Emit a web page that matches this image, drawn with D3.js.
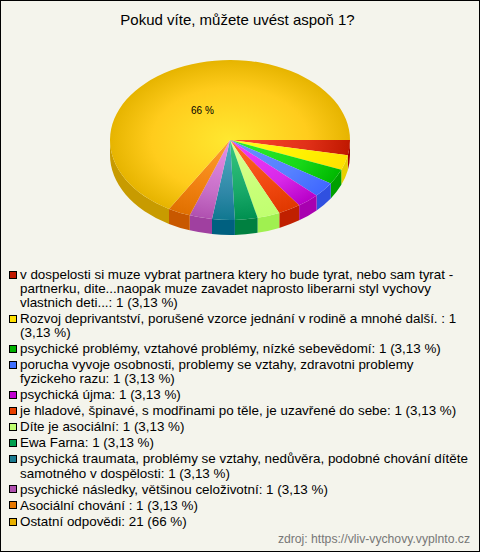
<!DOCTYPE html>
<html><head><meta charset="utf-8">
<script src="https://cdn.jsdelivr.net/npm/d3@7"></script>
<style>html,body{margin:0;padding:0;background:#f4f4ec}svg{display:block}</style>
</head><body><div id="c"></div>
<script>
const title = "Pokud víte, můžete uvést aspoň 1?";
const source = "zdroj: https://vliv-vychovy.vyplnto.cz";
const legendLines = [
 ["v dospelosti si muze vybrat partnera ktery ho bude tyrat, nebo sam tyrat -","partnerku, dite...naopak muze zavadet naprosto liberarni styl vychovy","vlastnich deti...: 1 (3,13 %)"],
 ["Rozvoj deprivantství, porušené vzorce jednání v rodině a mnohé další. : 1","(3,13 %)"],
 ["psychické problémy, vztahové problémy, nízké sebevědomí: 1 (3,13 %)"],
 ["porucha vyvoje osobnosti, problemy se vztahy, zdravotni problemy","fyzickeho razu: 1 (3,13 %)"],
 ["psychická újma: 1 (3,13 %)"],
 ["je hladové, špinavé, s modřinami po těle, je uzavřené do sebe: 1 (3,13 %)"],
 ["Díte je asociální: 1 (3,13 %)"],
 ["Ewa Farna: 1 (3,13 %)"],
 ["psychická traumata, problémy se vztahy, nedůvěra, podobné chování dítěte","samotného v dospělosti: 1 (3,13 %)"],
 ["psychické následky, většinou celoživotní: 1 (3,13 %)"],
 ["Asociální chování : 1 (3,13 %)"],
 ["Ostatní odpovědi: 21 (66 %)"]
];
const sliceValues = [1,1,1,1,1,1,1,1,1,1,1,21.85];
const innerColors = ["#ff4a30","#ffff20","#30f030","#6a90ff","#f040ff","#ff6a28","#e0ff98","#38c880","#50b0c0","#e890e8","#ffa030","#ffe830"];
const midColors   = ["#e03018","#fff000","#18d818","#5580ff","#d828e8","#f04810","#c8ff78","#18a868","#3088a8","#c870c8","#f08010","#ffcc1c"];
const edgeColors  = ["#c01800","#ffe000","#00b800","#4068ff","#b800c8","#e03800","#c0ff70","#009050","#107890","#b050b0","#e07000","#e6b400"];
const sideColors  = ["#a00000","#e8d000","#00a000","#3050e0","#a800b0","#c02000","#a0f050","#008040","#006080","#a040a0","#c85800","#c89b00"];
const keyColors   = ["#c01800","#ffe000","#00b000","#4070ff","#c000d0","#e84000","#c0ff70","#00a050","#1a7a90","#b050b0","#e87800","#e8b000"];

const W=480,H=552,cx=230,cy=140,rx=120,ry=80,depth=15;
const svg=d3.select("#c").append("svg").attr("width",W).attr("height",H);
const FONT="'Liberation Sans',Arial,sans-serif";
svg.append("rect").attr("x",.5).attr("y",.5).attr("width",W-1).attr("height",H-1).attr("fill","#f4f4ec").attr("stroke","#000");
svg.append("text").attr("x",237.5).attr("y",25).attr("text-anchor","middle").attr("font-family",FONT).attr("font-size",15).attr("fill","#000").text(title);

const pie=d3.pie().sort(null).startAngle(Math.PI/2).endAngle(Math.PI/2+2*Math.PI);
const arcs=pie(sliceValues);
const defs=svg.append("defs");
arcs.forEach((d,i)=>{
  const g=defs.append("radialGradient").attr("id","g"+i).attr("gradientUnits","userSpaceOnUse").attr("cx",0).attr("cy",0).attr("r",rx);
  g.append("stop").attr("offset",0).attr("stop-color",innerColors[i]);
  g.append("stop").attr("offset",.65).attr("stop-color",midColors[i]);
  g.append("stop").attr("offset",1).attr("stop-color",edgeColors[i]);
});
const px=a=>cx+rx*Math.sin(a), py=a=>cy-ry*Math.cos(a);
const sideG=svg.append("g");
arcs.forEach((d,i)=>{
  // d3 angles: 0 at north, clockwise. Visible rim runs east (PI/2) to west (3PI/2).
  const a0=Math.max(d.startAngle,Math.PI/2), a1=Math.min(d.endAngle,1.5*Math.PI);
  if(a1<=a0) return;
  sideG.append("path").attr("fill",sideColors[i])
   .attr("d",`M${px(a0)},${py(a0)}A${rx},${ry} 0 0 1 ${px(a1)},${py(a1)}L${px(a1)},${py(a1)+depth}A${rx},${ry} 0 0 0 ${px(a0)},${py(a0)+depth}Z`);
});
const arcGen=d3.arc().innerRadius(0).outerRadius(rx);
svg.append("g").attr("transform",`translate(${cx},${cy}) scale(1,${ry/rx})`)
 .selectAll("path").data(arcs).join("path").attr("d",arcGen).attr("fill",(d,i)=>`url(#g${i})`);
svg.append("text").attr("x",191).attr("y",114).attr("font-family",FONT).attr("font-size",10).attr("fill","#000").text("66 %");

let y=278.5;
const lg=svg.append("g");
legendLines.forEach((lines,i)=>{
  lg.append("rect").attr("x",9.5).attr("y",Math.round(y-8)+.5).attr("width",7).attr("height",7).attr("fill",keyColors[i]).attr("stroke","#000");
  lines.forEach((t,j)=>{
    lg.append("text").attr("x",20).attr("y",y+j*14.2).attr("font-family",FONT).attr("font-size",13.4).attr("fill","#000").text(t);
  });
  y+=(lines.length-1)*14.2+16;
});
svg.append("text").attr("x",470).attr("y",543).attr("text-anchor","end").attr("font-family",FONT).attr("font-size",12.2).attr("fill","#777").text(source);
</script></body></html>
